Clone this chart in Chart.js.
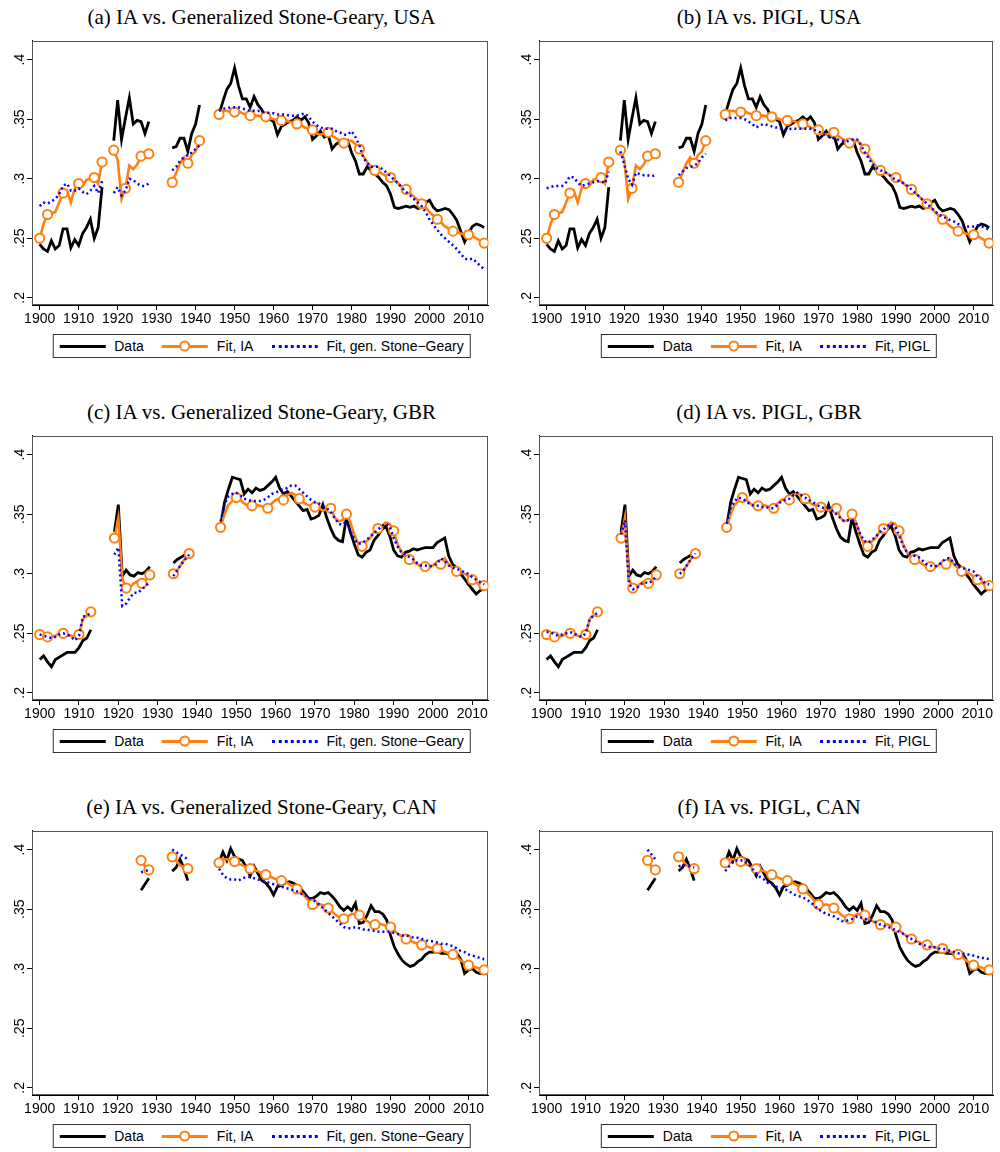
<!DOCTYPE html>
<html>
<head>
<meta charset="utf-8">
<script src="https://cdn.jsdelivr.net/npm/chart.js@4.4.1/dist/chart.umd.min.js"></script>
<style>
  html, body { margin: 0; padding: 0; background: #fff; overflow: hidden; }
  #page { position: relative; width: 1000px; height: 1152px; }
  canvas { position: absolute; }
  .title { position: absolute; transform: translate(-50%, -50%); white-space: nowrap;
           font-family: "Liberation Serif", "Times New Roman", serif; font-size: 21px; color: #000; }
  .legend { position: absolute; transform: translateX(-50%); box-sizing: border-box; height: 24px;
            border: 1px solid #333; display: flex; align-items: center; gap: 18px; padding: 0 6px;
            font-family: "Liberation Sans", Arial, sans-serif; font-size: 14px; color: #000; white-space: nowrap; }
  .item { display: flex; align-items: center; gap: 9px; }
  .sample { position: relative; width: 46px; height: 12px; }
  .ln { position: absolute; left: 0; right: 0; top: 5px; height: 0; }
  .dot { position: absolute; left: 50%; top: 50%; width: 7px; height: 7px; transform: translate(-50%, -50%);
         border: 2px solid #ff8010; border-radius: 50%; background: #fff; }
</style>
</head>
<body>
<div id="page"></div>
<script>
// years on the x axis
const years = Array.from({ length: 115 }, (_, i) => 1900 + i);
const xTicks = [1900, 1910, 1920, 1930, 1940, 1950, 1960, 1970, 1980, 1990, 2000, 2010];
const yTicks = [0.2, 0.25, 0.3, 0.35, 0.4];

// USA
const usaData = [
  0.245, 0.241, 0.239, 0.248, 0.241, 0.244, 0.258, 0.258, 0.242, 0.249,
  0.244, 0.254, 0.259, 0.266, 0.250, 0.259, 0.293, null, null, 0.332,
  0.366, 0.333, 0.351, 0.368, 0.346, 0.349, 0.348, 0.338, 0.348, null,
  null, null, null, null, 0.326, 0.327, 0.334, 0.334, 0.323, 0.338,
  0.346, 0.362, null, null, null, null, 0.354, 0.365, 0.375, 0.380,
  0.393, 0.378, 0.367, 0.367, 0.360, 0.369, 0.362, 0.358, 0.349, 0.350,
  0.348, 0.337, 0.344, 0.346, 0.348, 0.349, 0.352, 0.349, 0.352, 0.347,
  0.333, 0.336, 0.340, 0.335, 0.337, 0.325, 0.329, 0.331, 0.330, 0.332,
  0.322, 0.315, 0.304, 0.304, 0.310, 0.307, 0.304, 0.301, 0.297, 0.294,
  0.287, 0.276, 0.275, 0.276, 0.277, 0.276, 0.277, 0.275, 0.276, 0.280,
  0.282, 0.276, 0.273, 0.274, 0.275, 0.274, 0.270, 0.265, 0.256, 0.247,
  0.254, 0.260, 0.262, 0.261, 0.259
];
const usaIA = [
  0.250, 0.262, 0.270, 0.271, 0.272, 0.280, 0.288, 0.290, 0.280, 0.292,
  0.296, 0.294, 0.299, 0.300, 0.301, 0.296, 0.314, null, null, 0.324,
  0.316, 0.283, 0.292, 0.311, 0.308, 0.312, 0.319, 0.318, 0.321, null,
  null, null, null, null, 0.297, 0.305, 0.313, 0.318, 0.313, 0.320,
  0.323, 0.332, null, null, null, null, 0.354, 0.357, 0.357, 0.356,
  0.356, 0.357, 0.355, 0.354, 0.353, 0.353, 0.353, 0.352, 0.352, 0.351,
  0.350, 0.349, 0.349, 0.349, 0.348, 0.347, 0.346, 0.345, 0.343, 0.342,
  0.341, 0.338, 0.337, 0.338, 0.339, 0.336, 0.334, 0.332, 0.330, 0.331,
  0.332, 0.329, 0.325, 0.319, 0.314, 0.310, 0.307, 0.306, 0.304, 0.302,
  0.301, 0.299, 0.296, 0.293, 0.291, 0.288, 0.285, 0.282, 0.279, 0.276,
  0.272, 0.269, 0.266, 0.263, 0.260, 0.258, 0.256, 0.255, 0.254, 0.253,
  0.253, 0.252, 0.250, 0.248, 0.246
];
const usaSG = [
  0.277, 0.280, 0.279, 0.281, 0.283, 0.287, 0.294, 0.296, 0.290, 0.290,
  0.292, 0.289, 0.287, 0.290, 0.294, 0.288, 0.298, null, null, 0.288,
  0.293, 0.286, 0.290, 0.300, 0.299, 0.296, 0.294, 0.294, 0.296, null,
  null, null, null, null, 0.307, 0.310, 0.315, 0.318, 0.320, 0.322,
  0.325, 0.328, null, null, null, null, 0.357, 0.359, 0.359, 0.360,
  0.360, 0.360, 0.359, 0.358, 0.357, 0.357, 0.357, 0.356, 0.356, 0.355,
  0.355, 0.354, 0.354, 0.354, 0.353, 0.353, 0.353, 0.354, 0.355, 0.352,
  0.348, 0.345, 0.343, 0.342, 0.342, 0.342, 0.340, 0.339, 0.337, 0.337,
  0.340, 0.335, 0.328, 0.318, 0.313, 0.310, 0.310, 0.310, 0.308, 0.305,
  0.302, 0.299, 0.296, 0.292, 0.289, 0.286, 0.283, 0.280, 0.277, 0.272,
  0.266, 0.261, 0.257, 0.253, 0.250, 0.247, 0.244, 0.241, 0.237, 0.233,
  0.232, 0.233, 0.230, 0.227, 0.224
];
const usaPIGL = [
  0.292, 0.293, 0.294, 0.294, 0.294, 0.297, 0.302, 0.301, 0.297, 0.294,
  0.295, 0.296, 0.297, 0.298, 0.298, 0.296, 0.306, null, null, 0.323,
  0.312, 0.300, 0.295, 0.305, 0.304, 0.303, 0.303, 0.302, 0.303, null,
  null, null, null, null, 0.303, 0.306, 0.309, 0.310, 0.311, 0.313,
  0.318, 0.321, null, null, null, null, 0.349, 0.351, 0.351, 0.351,
  0.351, 0.350, 0.348, 0.346, 0.343, 0.345, 0.346, 0.345, 0.344, 0.343,
  0.343, 0.341, 0.341, 0.342, 0.342, 0.342, 0.342, 0.342, 0.342, 0.341,
  0.340, 0.338, 0.336, 0.335, 0.334, 0.333, 0.332, 0.331, 0.332, 0.333,
  0.333, 0.328, 0.322, 0.317, 0.312, 0.309, 0.307, 0.306, 0.304, 0.301,
  0.299, 0.298, 0.296, 0.294, 0.291, 0.288, 0.285, 0.282, 0.279, 0.276,
  0.273, 0.270, 0.268, 0.267, 0.265, 0.264, 0.262, 0.261, 0.260, 0.260,
  0.260, 0.261, 0.260, 0.259, 0.257
];

// GBR
const gbrData = [
  0.228, 0.231, 0.226, 0.222, 0.228, 0.230, 0.232, 0.234, 0.234, 0.234,
  0.238, 0.244, 0.246, 0.253, null, null, null, null, null, 0.335,
  0.358, 0.298, 0.303, 0.299, 0.298, 0.301, 0.300, 0.302, 0.306, null,
  null, null, null, null, 0.309, 0.312, 0.314, 0.316, 0.318, null,
  null, null, null, null, null, null, 0.340, 0.360, 0.371, 0.381,
  0.380, 0.379, 0.367, 0.371, 0.368, 0.372, 0.370, 0.371, 0.374, 0.377,
  0.381, 0.372, 0.367, 0.369, 0.365, 0.361, 0.357, 0.353, 0.354, 0.346,
  0.347, 0.349, 0.358, 0.347, 0.338, 0.331, 0.328, 0.327, 0.347, 0.335,
  0.325, 0.316, 0.314, 0.318, 0.320, 0.328, 0.332, 0.337, 0.340, 0.332,
  0.320, 0.315, 0.314, 0.318, 0.319, 0.321, 0.320, 0.321, 0.322, 0.322,
  0.322, 0.326, 0.328, 0.330, 0.315, 0.308, 0.305, 0.300, 0.296, 0.291,
  0.287, 0.283, 0.286, 0.287, null
];
const gbrIA = [
  0.249, 0.248, 0.247, 0.247, 0.248, 0.250, 0.250, 0.249, 0.248, 0.247,
  0.249, 0.262, 0.265, 0.268, null, null, null, null, null, 0.330,
  0.347, 0.296, 0.288, 0.289, 0.292, 0.294, 0.292, 0.295, 0.299, null,
  null, null, null, null, 0.300, 0.303, 0.308, 0.313, 0.317, null,
  null, null, null, null, null, null, 0.339, 0.350, 0.358, 0.361,
  0.364, 0.362, 0.359, 0.357, 0.357, 0.358, 0.357, 0.356, 0.355, 0.359,
  0.362, 0.363, 0.362, 0.366, 0.368, 0.366, 0.363, 0.360, 0.358, 0.357,
  0.356, 0.355, 0.353, 0.354, 0.355, 0.347, 0.344, 0.345, 0.350, 0.343,
  0.333, 0.325, 0.323, 0.327, 0.330, 0.335, 0.338, 0.340, 0.343, 0.342,
  0.336, 0.325, 0.318, 0.315, 0.312, 0.310, 0.308, 0.306, 0.306, 0.305,
  0.307, 0.310, 0.308, 0.313, 0.308, 0.305, 0.302, 0.301, 0.300, 0.298,
  0.295, 0.293, 0.290, 0.290, null
];
const gbrSG = [
  0.249, 0.248, 0.247, 0.246, 0.247, 0.249, 0.250, 0.249, 0.247, 0.244,
  0.248, 0.264, 0.265, 0.267, null, null, null, null, null, 0.316,
  0.322, 0.273, 0.275, 0.280, 0.284, 0.284, 0.287, 0.290, 0.293, null,
  null, null, null, null, 0.298, 0.303, 0.308, 0.312, 0.316, null,
  null, null, null, null, null, null, 0.344, 0.358, 0.365, 0.367,
  0.368, 0.366, 0.363, 0.362, 0.361, 0.361, 0.361, 0.362, 0.364, 0.367,
  0.368, 0.370, 0.371, 0.372, 0.374, 0.374, 0.371, 0.368, 0.365, 0.362,
  0.360, 0.359, 0.357, 0.355, 0.352, 0.347, 0.342, 0.341, 0.344, 0.336,
  0.329, 0.325, 0.326, 0.328, 0.331, 0.334, 0.337, 0.340, 0.342, 0.340,
  0.330, 0.323, 0.318, 0.316, 0.314, 0.312, 0.309, 0.307, 0.307, 0.306,
  0.307, 0.308, 0.313, 0.311, 0.307, 0.305, 0.304, 0.303, 0.301, 0.300,
  0.297, 0.295, 0.293, 0.291, null
];
const gbrPIGL = [
  0.251, 0.251, 0.249, 0.248, 0.249, 0.250, 0.251, 0.250, 0.248, 0.247,
  0.250, 0.262, 0.265, 0.267, null, null, null, null, null, 0.333,
  0.345, 0.292, 0.287, 0.288, 0.291, 0.293, 0.292, 0.294, 0.298, null,
  null, null, null, null, 0.300, 0.303, 0.308, 0.313, 0.317, null,
  null, null, null, null, null, null, 0.342, 0.355, 0.361, 0.364,
  0.363, 0.361, 0.358, 0.357, 0.357, 0.356, 0.356, 0.355, 0.355, 0.358,
  0.361, 0.362, 0.363, 0.366, 0.368, 0.366, 0.364, 0.362, 0.360, 0.358,
  0.356, 0.355, 0.355, 0.353, 0.350, 0.347, 0.344, 0.345, 0.345, 0.343,
  0.334, 0.328, 0.326, 0.328, 0.331, 0.335, 0.337, 0.340, 0.342, 0.340,
  0.332, 0.324, 0.318, 0.316, 0.315, 0.314, 0.311, 0.308, 0.307, 0.306,
  0.307, 0.310, 0.313, 0.313, 0.309, 0.306, 0.305, 0.304, 0.303, 0.302,
  0.298, 0.295, 0.292, 0.291, null
];

// CAN
const canData = [
  null, null, null, null, null, null, null, null, null, null,
  null, null, null, null, null, null, null, null, null, null,
  null, null, null, null, null, null, 0.366, 0.371, 0.376, null,
  null, null, null, null, 0.382, 0.385, 0.392, 0.384, 0.374, null,
  null, null, null, null, null, null, 0.389, 0.398, 0.391, 0.401,
  0.394, 0.392, 0.391, 0.385, 0.378, 0.386, 0.380, 0.374, 0.372, 0.368,
  0.362, 0.369, 0.370, 0.372, 0.373, 0.372, 0.370, 0.367, 0.363, 0.359,
  0.359, 0.361, 0.364, 0.363, 0.364, 0.361, 0.357, 0.352, 0.349, 0.352,
  0.349, 0.355, 0.338, 0.339, 0.345, 0.353, 0.348, 0.348, 0.346, 0.341,
  0.328, 0.318, 0.312, 0.307, 0.304, 0.302, 0.303, 0.306, 0.308, 0.312,
  0.314, 0.314, 0.314, 0.313, 0.313, 0.312, 0.312, 0.313, 0.308, 0.296,
  0.299, 0.300, 0.297, 0.296, 0.296
];
const canIA = [
  null, null, null, null, null, null, null, null, null, null,
  null, null, null, null, null, null, null, null, null, null,
  null, null, null, null, null, null, 0.391, 0.386, 0.383, null,
  null, null, null, null, 0.394, 0.391, 0.387, 0.385, 0.384, null,
  null, null, null, null, null, null, 0.389, 0.392, 0.392, 0.391,
  0.390, 0.388, 0.387, 0.385, 0.384, 0.383, 0.382, 0.380, 0.379, 0.378,
  0.376, 0.375, 0.374, 0.373, 0.371, 0.369, 0.367, 0.364, 0.361, 0.357,
  0.354, 0.353, 0.354, 0.353, 0.351, 0.348, 0.345, 0.343, 0.342, 0.344,
  0.346, 0.346, 0.345, 0.342, 0.340, 0.338, 0.337, 0.338, 0.337, 0.336,
  0.335, 0.332, 0.329, 0.327, 0.325, 0.324, 0.322, 0.321, 0.320, 0.319,
  0.318, 0.317, 0.317, 0.316, 0.314, 0.313, 0.312, 0.310, 0.307, 0.305,
  0.303, 0.302, 0.301, 0.300, 0.299
];
const canSG = [
  null, null, null, null, null, null, null, null, null, null,
  null, null, null, null, null, null, null, null, null, null,
  null, null, null, null, null, null, 0.381, 0.382, 0.383, null,
  null, null, null, null, 0.400, 0.398, 0.396, 0.394, 0.392, null,
  null, null, null, null, null, null, 0.384, 0.379, 0.376, 0.375,
  0.375, 0.374, 0.376, 0.377, 0.377, 0.376, 0.375, 0.374, 0.373, 0.372,
  0.371, 0.370, 0.369, 0.368, 0.367, 0.366, 0.365, 0.363, 0.362, 0.360,
  0.358, 0.356, 0.353, 0.350, 0.347, 0.344, 0.341, 0.338, 0.335, 0.334,
  0.334, 0.335, 0.334, 0.333, 0.333, 0.332, 0.332, 0.331, 0.331, 0.331,
  0.331, 0.330, 0.329, 0.328, 0.328, 0.327, 0.326, 0.326, 0.325, 0.324,
  0.323, 0.323, 0.322, 0.321, 0.321, 0.320, 0.319, 0.317, 0.315, 0.314,
  0.312, 0.311, 0.310, 0.309, 0.308
];
const canPIGL = [
  null, null, null, null, null, null, null, null, null, null,
  null, null, null, null, null, null, null, null, null, null,
  null, null, null, null, null, null, 0.400, 0.396, 0.392, null,
  null, null, null, null, 0.386, 0.387, 0.387, 0.386, 0.385, null,
  null, null, null, null, null, null, 0.382, 0.386, 0.390, 0.391,
  0.391, 0.390, 0.388, 0.384, 0.380, 0.377, 0.375, 0.372, 0.371, 0.369,
  0.368, 0.367, 0.366, 0.364, 0.362, 0.361, 0.360, 0.358, 0.356, 0.353,
  0.350, 0.348, 0.346, 0.345, 0.344, 0.342, 0.340, 0.340, 0.341, 0.342,
  0.344, 0.343, 0.342, 0.341, 0.340, 0.339, 0.337, 0.336, 0.335, 0.334,
  0.332, 0.331, 0.329, 0.327, 0.325, 0.323, 0.321, 0.320, 0.319, 0.318,
  0.318, 0.317, 0.317, 0.316, 0.315, 0.314, 0.313, 0.313, 0.312, 0.312,
  0.311, 0.310, 0.309, 0.309, 0.308
];

const ORANGE = '#ff8010';
const BLUE = '#0000ff';
const TICK_FONT = '"Liberation Sans", Arial, sans-serif';

const panels = [
  { title: '(a) IA vs. Generalized Stone-Geary, USA', data: usaData, ia: usaIA, alt: usaSG, altName: 'Fit, gen. Stone\u2212Geary', xMin: 1898.03, xMax: 2015.1, col: 0, row: 0 },
  { title: '(b) IA vs. PIGL, USA', data: usaData, ia: usaIA, alt: usaPIGL, altName: 'Fit, PIGL', xMin: 1898.03, xMax: 2015.1, col: 1, row: 0 },
  { title: '(c) IA vs. Generalized Stone-Geary, GBR', data: gbrData, ia: gbrIA, alt: gbrSG, altName: 'Fit, gen. Stone\u2212Geary', xMin: 1898.05, xMax: 2014.1, col: 0, row: 1 },
  { title: '(d) IA vs. PIGL, GBR', data: gbrData, ia: gbrIA, alt: gbrPIGL, altName: 'Fit, PIGL', xMin: 1898.05, xMax: 2014.1, col: 1, row: 1 },
  { title: '(e) IA vs. Generalized Stone-Geary, CAN', data: canData, ia: canIA, alt: canSG, altName: 'Fit, gen. Stone\u2212Geary', xMin: 1898.03, xMax: 2015.1, col: 0, row: 2 },
  { title: '(f) IA vs. PIGL, CAN', data: canData, ia: canIA, alt: canPIGL, altName: 'Fit, PIGL', xMin: 1898.03, xMax: 2015.1, col: 1, row: 2 }
];

// plot frame, like the Stata plot region outline
const framePlugin = {
  id: 'frame',
  beforeDatasetsDraw(chart) {
    const a = chart.chartArea, c = chart.ctx;
    c.save();
    c.strokeStyle = '#555';
    c.lineWidth = 1;
    c.strokeRect(Math.round(a.left) + 0.5, Math.round(a.top) + 0.5,
                 Math.round(a.right - a.left) - 1, Math.round(a.bottom - a.top) - 1);
    c.restore();
  }
};

// y labels are turned 90 degrees (.4, .35 ...)
const yLabelPlugin = {
  id: 'ylabels',
  afterDraw(chart) {
    const s = chart.scales.y, c = chart.ctx;
    c.save();
    c.font = '14px ' + TICK_FONT;
    c.fillStyle = '#000';
    c.textAlign = 'center';
    c.textBaseline = 'middle';
    s.ticks.forEach(t => {
      const y = s.getPixelForValue(t.value);
      c.save();
      c.translate(s.right - 12, y);
      c.rotate(-Math.PI / 2);
      c.fillText(String(t.value).replace(/^0/, ''), 0, 0);
      c.restore();
    });
    c.restore();
  }
};

function toPoints(arr) {
  return years.map((yr, i) => ({ x: yr, y: arr[i] }));
}

// markers every 4th year and at the ends of each run of data
function markerRadius(arr) {
  return ctx => {
    const i = ctx.dataIndex;
    if (arr[i] == null) return 0;
    if (years[i] % 4 === 2 || arr[i - 1] == null || arr[i + 1] == null) return 4.6;
    return 0;
  };
}

function legendHtml(altName) {
  return '<div class="item"><div class="sample"><span class="ln" style="border-top:3px solid #000"></span></div>Data</div>' +
    '<div class="item"><div class="sample"><span class="ln" style="border-top:3px solid ' + ORANGE + '"></span><span class="dot"></span></div>Fit, IA</div>' +
    '<div class="item"><div class="sample"><span class="ln" style="border-top:3px dotted ' + BLUE + '"></span></div>' + altName + '</div>';
}

const page = document.getElementById('page');

panels.forEach(p => {
  const left = p.col * 507;
  const frameTop = 39 + p.row * 395;
  const frameL = 32;
  const frameR = p.col === 0 ? 491 : 492;
  const W = p.col === 0 ? 495 : 493;
  const H = 5 + 266 + 26;

  const title = document.createElement('div');
  title.className = 'title';
  title.textContent = p.title;
  title.style.left = (left + (frameL + frameR) / 2) + 'px';
  title.style.top = (frameTop - 22) + 'px';
  page.appendChild(title);

  const cv = document.createElement('canvas');
  cv.width = W;
  cv.height = H;
  cv.style.left = left + 'px';
  cv.style.top = (frameTop - 5) + 'px';
  page.appendChild(cv);

  const leg = document.createElement('div');
  leg.className = 'legend';
  leg.innerHTML = legendHtml(p.altName);
  leg.style.left = (left + (frameL + frameR) / 2) + 'px';
  leg.style.top = (frameTop + 266 + 29) + 'px';
  page.appendChild(leg);

  new Chart(cv, {
    type: 'line',
    data: {
      datasets: [
        { label: 'Data', data: toPoints(p.data), borderColor: '#000', borderWidth: 2.8,
          pointRadius: 0, order: 3 },
        { label: 'Fit, IA', data: toPoints(p.ia), borderColor: ORANGE, borderWidth: 2.6,
          pointRadius: markerRadius(p.ia), pointBackgroundColor: '#fff', pointBorderColor: ORANGE,
          pointBorderWidth: 2, order: 2 },
        { label: p.altName, data: toPoints(p.alt), borderColor: BLUE, borderWidth: 2.5,
          borderDash: [2, 3], pointRadius: 0, order: 1 }
      ]
    },
    options: {
      responsive: false,
      animation: false,
      events: [],
      layout: { padding: { top: 5, right: W - frameR, left: 0, bottom: 0 } },
      plugins: { legend: { display: false }, tooltip: { enabled: false } },
      scales: {
        x: {
          type: 'linear',
          min: p.xMin,
          max: p.xMax,
          afterBuildTicks: s => { s.ticks = xTicks.map(v => ({ value: v })); },
          afterFit: s => { s.height = 26; },
          grid: { display: true, drawOnChartArea: false, drawTicks: true, tickLength: 5, color: '#000' },
          border: { display: true, color: '#000', width: 1 },
          ticks: { font: { family: TICK_FONT, size: 14 }, color: '#000', padding: 1,
                   maxRotation: 0, autoSkip: false, callback: v => String(v) }
        },
        y: {
          min: 0.194,
          max: 0.416,
          afterBuildTicks: s => { s.ticks = yTicks.map(v => ({ value: v })); },
          afterFit: s => { s.width = 32; },
          grid: { display: true, drawOnChartArea: false, drawTicks: true, tickLength: 5, color: '#000' },
          border: { display: true, color: '#000', width: 1 },
          ticks: { display: false }
        }
      }
    },
    plugins: [framePlugin, yLabelPlugin]
  });
});
</script>
</body>
</html>
